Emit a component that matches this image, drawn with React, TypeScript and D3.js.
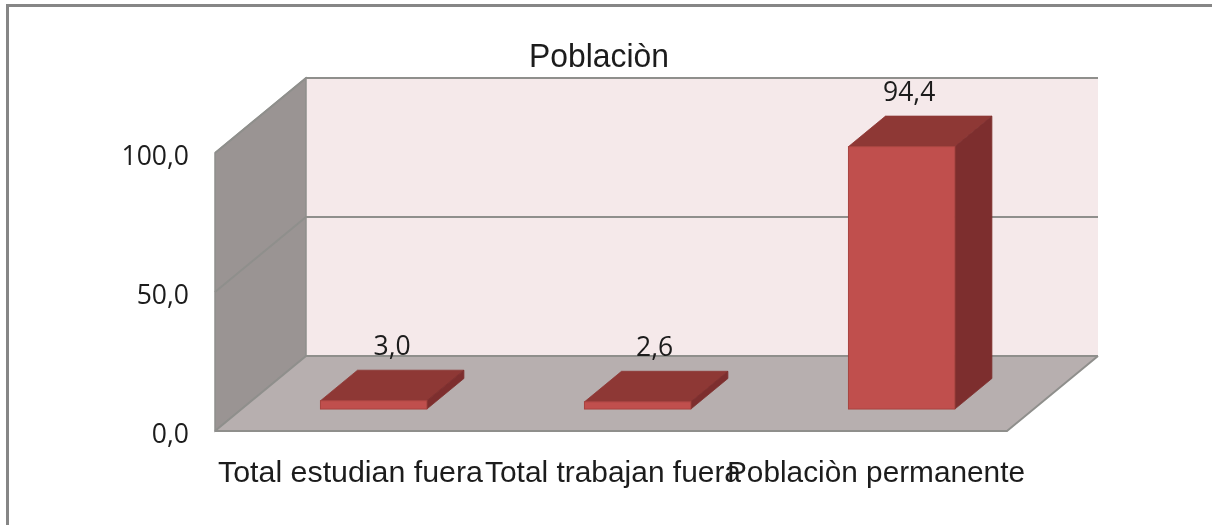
import React from "react";
import * as d3 from "d3";

const title = "Poblaciòn";
const categories = ["Total estudian fuera", "Total trabajan fuera", "Poblaciòn permanente"];
const values = [3.0, 2.6, 94.4];
const valueLabels = ["3,0", "2,6", "94,4"];
const yTicks = [0, 50, 100];
const yTickLabels = ["0,0", "50,0", "100,0"];

const W = 1212, H = 525;
const left = 215, right = 1007, bottom = 431, top100 = 153;
const depthX = 91, depthY = 75;
const barDepthStart = 0.293, barDepthEnd = 0.70;
const labelShift = [0, -1.5, -11];
const catStart = [218, 485, 727];
const catWidth = [265, 256, 298];

const x = d3.scaleBand<string>().domain(categories).range([left, right]).paddingInner(0).paddingOuter(0);
const y = d3.scaleLinear().domain([0, 100]).range([bottom, top100]);
const pts = (p: [number, number][]) => p.map(q => q.map(n => n.toFixed(1)).join(",")).join(" ");
const line = "#8f8f8c";
const sans = "'Liberation Sans', Arial, sans-serif";
const numFont = "'Open Sans', sans-serif";
const ink = "#1c1c1c";

export default function App() {
  const barW = x.bandwidth() * 0.403;
  return (
    <svg width={W} height={H} style={{ position: "fixed", left: 0, top: 0, background: "#fff" }}>
      <defs>
        <filter id="soft" x="-5%" y="-5%" width="110%" height="110%"><feGaussianBlur stdDeviation="0.5" /></filter>
      </defs>
      <g filter="url(#soft)">
        <path d={`M7.5 ${H}V5.5H${W}`} fill="none" stroke="#868686" strokeWidth={3} />
        <rect x={left + depthX} y={top100 - depthY} width={right - left} height={bottom - top100} fill="#f5e9ea" />
        <polygon points={pts([[left, bottom], [left, top100], [left + depthX, top100 - depthY], [left + depthX, bottom - depthY]])} fill="#9a9493" stroke={line} strokeWidth={1.5} />
        <polygon points={pts([[left, bottom], [right, bottom], [right + depthX, bottom - depthY], [left + depthX, bottom - depthY]])} fill="#b7afaf" />
        <path d={`M${left} ${bottom}H${right}L${right + depthX} ${bottom - depthY}`} fill="none" stroke={line} strokeWidth={2} />
        {yTicks.map(t => (
          <path key={t} d={`M${left} ${y(t)}L${left + depthX} ${y(t) - depthY}H${right + depthX}`} fill="none" stroke={line} strokeWidth={2} />
        ))}
        {categories.map((c, i) => {
          const cx = x(c)! + x.bandwidth() / 2 + depthX * barDepthStart;
          const x0 = cx - barW / 2, x1 = cx + barW / 2;
          const base = bottom - depthY * barDepthStart;
          const h = bottom - y(values[i]);
          const t = base - h;
          const dx = depthX * (barDepthEnd - barDepthStart), dy = depthY * (barDepthEnd - barDepthStart);
          return (
            <g key={c}>
              <polygon points={pts([[x0, t], [x1, t], [x1 + dx, t - dy], [x0 + dx, t - dy]])} fill="#8e3735" stroke="#8e3735" strokeWidth={0.8} />
              <polygon points={pts([[x1, base], [x1, t], [x1 + dx, t - dy], [x1 + dx, base - dy]])} fill="#7d2f2d" stroke="#7d2f2d" strokeWidth={0.8} />
              <rect x={x0} y={t} width={barW} height={h} fill="#c0504d" stroke="#a8433f" strokeWidth={1} />
              <text x={cx + dx / 2 + labelShift[i]} y={t - dy - 15} textAnchor="middle" fontFamily={numFont} fontSize={26.5} fill={ink}>{valueLabels[i]}</text>
            </g>
          );
        })}
        {yTicks.map((t, i) => (
          <text key={t} x={189} y={y(t) + 12} textAnchor="end" fontFamily={numFont} fontSize={26.5} fill={ink}>{yTickLabels[i]}</text>
        ))}
        {categories.map((c, i) => (
          <text key={c} x={catStart[i]} y={481.5} fontFamily={sans} fontSize={29.5} fill={ink} textLength={catWidth[i]} lengthAdjust="spacingAndGlyphs">{c}</text>
        ))}
        <text x={529} y={67} fontFamily={sans} fontSize={33} fill={ink} textLength={140} lengthAdjust="spacingAndGlyphs">{title}</text>
      </g>
    </svg>
  );
}
